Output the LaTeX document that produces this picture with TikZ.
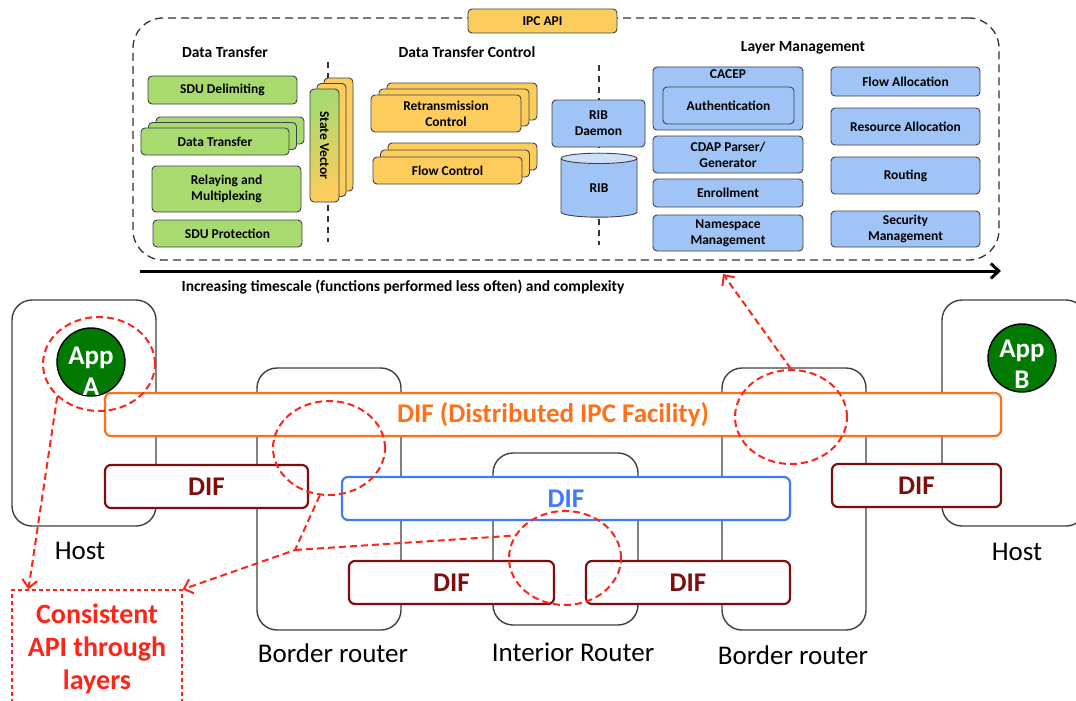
\documentclass[tikz,border=0pt]{standalone}
\usepackage{fontspec}
\setmainfont{Carlito}
\usetikzlibrary{arrows.meta,positioning,shapes,backgrounds}

\definecolor{dtgreen}{RGB}{168,218,112}
\definecolor{dtorange}{RGB}{252,204,92}
\definecolor{lmblue}{RGB}{160,196,246}
\definecolor{ribtop}{RGB}{204,224,252}
\definecolor{boxline}{RGB}{62,66,72}
\definecolor{difOrange}{RGB}{255,112,24}
\definecolor{difRed}{RGB}{125,14,14}
\definecolor{difBlue}{RGB}{64,120,255}
\definecolor{appGreen}{RGB}{0,122,0}
\definecolor{noteRed}{RGB}{255,36,24}

\newcommand{\fsz}[2]{\fontsize{#1}{#2}\selectfont}

\begin{document}
\begin{tikzpicture}[x=1pt, y=-1pt]

   \tikzstyle{grn}=[rectangle, rounded corners=4pt, draw=boxline, line width=0.9pt, fill=dtgreen, inner sep=0pt, align=center, font=\bfseries\fsz{13.5}{16}]
   \tikzstyle{yel}=[grn, fill=dtorange]
   \tikzstyle{blu}=[grn, fill=lmblue]
   \tikzstyle{db}=[cylinder, shape border rotate=90, aspect=0.55, draw=boxline, line width=0.9pt, cylinder uses custom fill, cylinder body fill=lmblue, cylinder end fill=ribtop, inner sep=0pt, font=\bfseries\fsz{13.5}{16}]
   \tikzstyle{hdr}=[font=\bfseries\fsz{15.5}{18}]
   \tikzstyle{host}=[rectangle, rounded corners=20pt, draw=black!75, line width=1.4pt, fill=white, inner sep=0pt]
   \tikzstyle{lbl}=[font=\fsz{27}{30}]
   \tikzstyle{app}=[circle, draw=black, line width=1.4pt, fill=appGreen, minimum size=68pt, inner sep=0pt]
   \tikzstyle{apptxt}=[text=white, align=center, font=\bfseries\fsz{27}{31}]
   \tikzstyle{dif}=[rectangle, rounded corners=6pt, fill=white, line width=2.2pt, minimum height=43pt, inner sep=0pt, font=\bfseries\fsz{27}{30}]
   \tikzstyle{ring}=[ellipse, draw=noteRed, dash pattern=on 7pt off 4pt, line width=2pt, minimum width=112pt, minimum height=94pt, inner sep=0pt]
   \tikzstyle{note}=[draw=noteRed, line width=2pt, dash pattern=on 7pt off 4pt, -{Straight Barb[length=8pt,width=15pt]}]

   \useasboundingbox (0,0) rectangle (1076,701);

   % IPC process: functions grouped by timescale
   \node[draw=black!80, line width=1.3pt, dash pattern=on 8pt off 5pt, rounded corners=30pt, minimum width=866pt, minimum height=242pt] (ipc) at (566,139) {};
   \node[yel, minimum width=149pt, minimum height=24pt] (ipcapi) at (542.5,21) {IPC API};

   \node[hdr] (hdt) at (225,52) {Data Transfer};
   \node[hdr] (hdtc) at (467,52) {Data Transfer Control};
   \node[hdr] (hlm) at (803,48) {Layer Management};

   \draw[black!80, line width=1.3pt, dash pattern=on 6pt off 5pt] (328,62) -- (328,242);
   \draw[black!80, line width=1.3pt, dash pattern=on 6pt off 5pt] (599,65) -- (599,245);

   \node[grn, minimum width=149pt, minimum height=28pt] (sdudelim) at (222.5,90) {SDU Delimiting};
   \foreach \k in {2,1}
      \node[grn, minimum width=148pt, minimum height=27pt] (dtback\k) at (215+7.5*\k,141.5-5.5*\k) {};
   \node[grn, minimum width=148pt, minimum height=27pt] (dtfront) at (215,141.5) {Data Transfer};
   \node[grn, minimum width=149pt, minimum height=46pt] (relay) at (226.5,189) {Relaying and\\Multiplexing};
   \node[grn, minimum width=149pt, minimum height=27pt] (sduprot) at (227.5,233.5) {SDU Protection};

   \foreach \k in {2,1}
      \node[yel, minimum width=29pt, minimum height=113pt] (svback\k) at (324.5+7*\k,145.5-5.5*\k) {};
   \node[grn, top color=dtgreen, bottom color=dtorange, shading angle=30, minimum width=29pt, minimum height=113pt] (sv) at (324.5,145.5) {\rotatebox{-90}{State Vector}};

   \foreach \k in {2,1}
      \node[yel, minimum width=150pt, minimum height=37pt] (rcback\k) at (446+8*\k,113.5-6*\k) {};
   \node[yel, minimum width=150pt, minimum height=37pt] (retrans) at (446,113.5) {Retransmission\\Control};
   \foreach \k in {2,1}
      \node[yel, minimum width=149pt, minimum height=27pt] (fcback\k) at (447.5+7.5*\k,170.5-7*\k) {};
   \node[yel, minimum width=149pt, minimum height=27pt] (flowctl) at (447.5,170.5) {Flow Control};

   \node[blu, minimum width=93pt, minimum height=47pt] (ribd) at (598.5,123.5) {RIB\\Daemon};
   \node[db, minimum width=76pt, minimum height=64pt] (rib) at (599,188) {RIB};

   \node[blu, minimum width=150pt, minimum height=63pt, label={[anchor=north, inner sep=3pt, font=\bfseries\fsz{13.5}{16}]north:CACEP}] (cacep) at (728,98.5) {};
   \node[blu, minimum width=131pt, minimum height=37pt] (auth) at (728.5,105.5) {Authentication};
   \node[blu, minimum width=150pt, minimum height=37pt] (cdap) at (728,154.5) {CDAP Parser/\\Generator};
   \node[blu, minimum width=150pt, minimum height=28pt] (enroll) at (728,193) {Enrollment};
   \node[blu, minimum width=150pt, minimum height=36pt] (nsmgmt) at (728,233) {Namespace\\Management};

   \node[blu, minimum width=149pt, minimum height=29pt] (flowalloc) at (905.5,81.5) {Flow Allocation};
   \node[blu, minimum width=149pt, minimum height=37pt] (resalloc) at (905.5,126.5) {Resource Allocation};
   \node[blu, minimum width=149pt, minimum height=37pt] (routing) at (905.5,175.5) {Routing};
   \node[blu, minimum width=149pt, minimum height=36pt] (secmgmt) at (905.5,229) {Security\\Management};

   % timescale axis
   \coordinate (tsL) at (140,271);
   \coordinate (tsR) at (1001,271);
   \coordinate (tsmark) at (723,274);
   \draw[line width=3pt, -{Straight Barb[length=8pt,width=15pt]}] (tsL) -- (tsR);
   \node[font=\bfseries\fsz{15.5}{18}] (tstext) at (403,287) {Increasing timescale (functions performed less often) and complexity};

   % hosts and routers
   \node[host, minimum width=144pt, minimum height=226pt] (hostA) at (84,413) {};
   \node[host, minimum width=144pt, minimum height=226pt] (hostB) at (1014,413) {};
   \node[host, minimum width=144pt, minimum height=262pt] (brA) at (329,499) {};
   \node[host, minimum width=144pt, minimum height=262pt] (brB) at (794,499) {};
   \node[host, minimum width=145pt, minimum height=172pt] (ir) at (565.5,539) {};

   \node[lbl] (hostAlbl) at (80,551) {Host};
   \node[lbl] (hostBlbl) at (1017,552) {Host};
   \node[lbl] (brAlbl) at (333,653) {Border router};
   \node[lbl] (irlbl) at (573,652) {Interior Router};
   \node[lbl] (brBlbl) at (793,655) {Border router};

   \node[app] (appA) at (91,362) {};
   \node[apptxt] (appAtxt) at (91,371) {App\\A};
   \node[app] (appB) at (1022,358) {};
   \node[apptxt] (appBtxt) at (1022,364) {App\\B};

   % layers
   \node[dif, draw=difOrange, text=difOrange, minimum width=896pt] (difTop) at (553,414.5) {DIF (Distributed IPC Facility)};
   \node[dif, draw=difRed, text=difRed, minimum width=203pt] (difA) at (206.5,486.5) {DIF};
   \node[dif, draw=difBlue, text=difBlue, minimum width=448pt] (difMid) at (566,498.5) {DIF};
   \node[dif, draw=difRed, text=difRed, minimum width=205pt] (difIRa) at (451.5,582.5) {DIF};
   \node[dif, draw=difRed, text=difRed, minimum width=204pt] (difIRb) at (688,582.5) {DIF};
   \node[dif, draw=difRed, text=difRed, minimum width=169pt] (difB) at (916.5,485.5) {DIF};

   % same API at every layer
   \node[ring] (ringA) at (99,364) {};
   \node[ring] (ringBL) at (329,448) {};
   \node[ring] (ringIR) at (565,558) {};
   \node[ring] (ringBR) at (791,417) {};

   \node[draw=noteRed, line width=1.2pt, dash pattern=on 4pt off 3pt, minimum width=170pt, minimum height=118pt, text=noteRed, align=center, font=\bfseries\fsz{28}{33}] (callout) at (97,649) {Consistent\\API through\\layers};

   \coordinate (knee) at (295,550);
   \draw[note] (ringA.218) -- ([xshift=17pt]callout.north west);
   \draw[note] (ringBL.259) -- (knee) -- (callout.north east);
   \draw[note, -] (knee) -- (ringIR.156);
   \draw[note] (ringBR.north) -- (tsmark);

\end{tikzpicture}
\end{document}
